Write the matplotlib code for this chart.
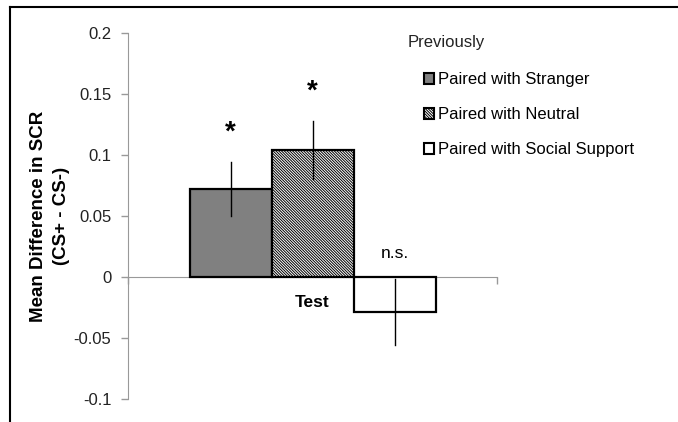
import matplotlib.pyplot as plt
from matplotlib.patches import Patch
from matplotlib.lines import Line2D

plt.rcParams['font.family'] = ['Liberation Sans', 'DejaVu Sans']
plt.rcParams['hatch.linewidth'] = 0.7

groups = ["Paired with Stranger", "Paired with Neutral", "Paired with Social Support"]
means = [0.072, 0.104, -0.029]
errors = [0.022, 0.024, 0.027]
marks = ["*", "*", "n.s."]
yticks = [0.2, 0.15, 0.1, 0.05, 0, -0.05, -0.1]
ytick_labels = ["0.2", "0.15", "0.1", "0.05", "0", "-0.05", "-0.1"]

fills = ["#808080", "white", "white"]
hatches = [None, "\\" * 12, None]

fig = plt.figure(figsize=(6.78, 4.22), dpi=100)
ax = fig.add_axes([128 / 678, 23 / 422, 369 / 678, 366 / 422])

width = 2 / 3
xs = [-width, 0, width]
for x, m, e, fc, h in zip(xs, means, errors, fills, hatches):
    ax.bar(x, m, width=width, color=fc, edgecolor="black", linewidth=1.6,
           hatch=h, zorder=2)
    ax.plot([x, x], [m - e, m + e], color="black", lw=1.0, zorder=3)

# significance marks
for x, m, e, s in zip(xs, means, errors, marks):
    if s == "*":
        ax.text(x, m + e + 0.024, s, ha="center", va="center", fontsize=20,
                fontweight="bold")
    else:
        ax.text(x, 0.019, s, ha="center", va="center", fontsize=12.5)

ax.set_xlim(-1.5, 1.5)
ax.set_ylim(-0.1, 0.2)
ax.set_yticks(yticks)
ax.set_yticklabels(ytick_labels, fontsize=12, color="#222222")
ax.tick_params(axis="y", direction="out", length=5, color="#999999", width=1,
               pad=7)
ax.spines["top"].set_visible(False)
ax.spines["right"].set_visible(False)
ax.spines["left"].set_color("#999999")
ax.spines["bottom"].set_position(("data", 0))
ax.spines["bottom"].set_color("#999999")
ax.spines["bottom"].set_zorder(1)
ax.set_xticks([-1.5, 1.5])
ax.set_xticklabels(["", ""])
ax.tick_params(axis="x", direction="out", length=5, color="#999999", width=1)
ax.text(0, -0.021, "Test", ha="center", va="center", fontsize=12.5,
        fontweight="bold")

fig.text(50 / 678, 1 - 216 / 422, "Mean Difference in SCR\n(CS+ - CS-)",
         rotation=90, ha="center", va="center", fontsize=13.5,
         fontweight="bold", multialignment="center", linespacing=1.45)

# legend
fig.text(408 / 678, 1 - 43 / 422, "Previously", ha="left", va="center",
         fontsize=12, color="#222222")
handles = [Patch(facecolor=fc, edgecolor="black", linewidth=1.5, hatch=h)
           for fc, h in zip(fills, hatches)]
fig.legend(handles, groups, loc="upper left",
           bbox_to_anchor=(409 / 678, 1 - 57 / 422), frameon=False,
           fontsize=12, handlelength=0.62, handleheight=0.62,
           handletextpad=0.2, labelspacing=1.2)

# outer frame
fig.add_artist(Line2D([10 / 678, 10 / 678], [0, 1 - 7 / 422],
                      color="black", lw=1.5, transform=fig.transFigure))
fig.add_artist(Line2D([10 / 678, 1], [1 - 7 / 422, 1 - 7 / 422],
                      color="black", lw=1.5, transform=fig.transFigure))

fig.savefig("out.png", dpi=100)
